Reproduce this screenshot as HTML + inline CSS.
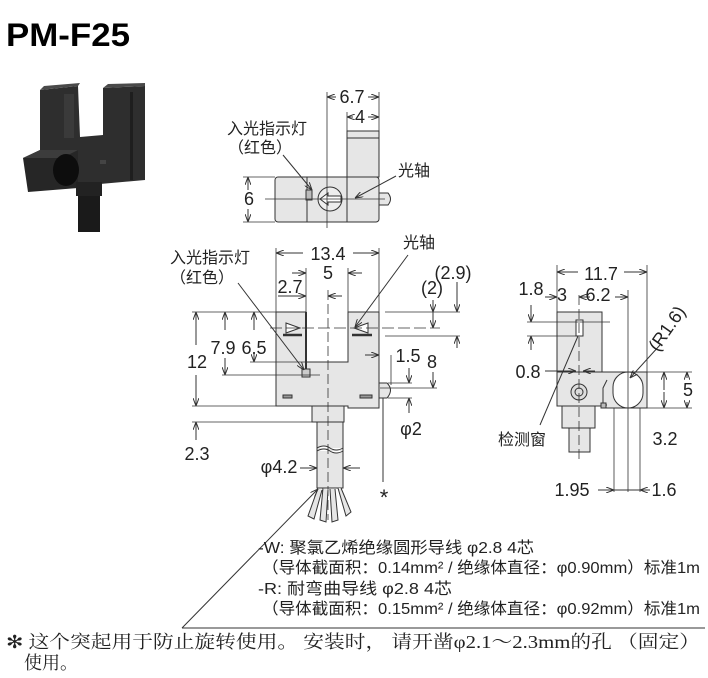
<!DOCTYPE html>
<html><head><meta charset="utf-8"><style>
html,body{margin:0;padding:0;background:#fff;}
svg{display:block;}
text{font-family:"Liberation Sans","Noto Sans CJK SC",sans-serif;fill:#222;}
.d{font-size:18px;}
.d text{text-anchor:middle;}
.c{font-size:16px;}
</style></head><body>
<svg width="708" height="678" viewBox="0 0 708 678" xmlns="http://www.w3.org/2000/svg">
<defs>
<marker id="a" markerWidth="8" markerHeight="6" refX="8" refY="3" orient="auto-start-reverse" markerUnits="userSpaceOnUse"><path d="M0,0 L8,3 L0,6" fill="none" stroke="#333" stroke-width="1"/></marker>
</defs>
<text x="6" y="46" style="font-size:32px;font-weight:bold;fill:#000" textLength="124" lengthAdjust="spacingAndGlyphs">PM-F25</text>

<!-- photo -->
<g>
<path d="M40,90 L78,86 L80,137 L103,135 L103,88 L145,86 L145,180 L100,184 L78,186 L40,188 Z" fill="#2e2e2e"/>
<path d="M40,90 L44,86 L80,83 L78,86Z M103,88 L108,84 L145,83 L145,86Z" fill="#4a4a4a"/>
<rect x="64" y="94" width="10" height="44" fill="#3a3a3a"/>
<rect x="130" y="92" width="3" height="88" fill="#1e1e1e"/>
<path d="M23,158 L40,150 L78,150 L78,188 L28,192 Z" fill="#262626"/>
<path d="M23,158 L40,150 L78,150 L62,158Z" fill="#3c3c3c"/>
<ellipse cx="66" cy="170" rx="13" ry="16" fill="#0d0d0d"/>
<rect x="100" y="160" width="6" height="4" fill="#444"/>
<rect x="78" y="184" width="22" height="48" fill="#1a1a1a"/>
<rect x="76" y="182" width="26" height="14" fill="#222"/>
</g>

<g stroke="#333" stroke-width="1" fill="none">
<!-- top view -->
<rect x="347" y="131" width="32" height="46" fill="#e6e6e6"/>
<line x1="347" y1="138" x2="379" y2="138"/>
<rect x="275" y="177" width="104" height="45" rx="3" fill="#e6e6e6"/>
<line x1="307" y1="177" x2="307" y2="222"/>
<line x1="347" y1="177" x2="347" y2="222"/>
<path d="M379,193 L388,193 Q393,199 388,205 L379,205Z" fill="#e6e6e6"/>
<rect x="306" y="190" width="6" height="10" fill="#bbb"/>
<circle cx="330" cy="199" r="12" fill="#eee"/>
<path d="M320,199 L328,193 L328,196 L341,196 L341,202 L328,202 L328,205Z" fill="#fff"/>
<line x1="265" y1="199" x2="385" y2="199" stroke-width="0.8"/>
<line x1="327" y1="92" x2="327" y2="228" stroke-width="0.8"/>
<line x1="379" y1="92" x2="379" y2="131" stroke-width="0.8"/>
<line x1="347" y1="112" x2="347" y2="131" stroke-width="0.8"/>
<line x1="327" y1="97" x2="336" y2="97" marker-start="url(#a)"/>
<line x1="368" y1="97" x2="379" y2="97" marker-end="url(#a)"/>
<line x1="347" y1="117" x2="353" y2="117" marker-start="url(#a)"/>
<line x1="368" y1="117" x2="379" y2="117" marker-end="url(#a)"/>
<line x1="248" y1="177" x2="248" y2="190" marker-start="url(#a)"/>
<line x1="248" y1="209" x2="248" y2="222" marker-end="url(#a)"/>
<line x1="243" y1="177" x2="275" y2="177" stroke-width="0.8"/>
<line x1="243" y1="222" x2="275" y2="222" stroke-width="0.8"/>
<line x1="283" y1="155" x2="312" y2="190" marker-end="url(#a)"/>
<line x1="396" y1="176" x2="355" y2="198" marker-end="url(#a)"/>

<!-- front view -->
<path d="M276,312 L306,312 L306,362 L348,362 L348,312 L379,312 L379,408 L348,408 L348,406 L276,406 Z" fill="#e6e6e6"/>
<path d="M379,383 L387,383 Q394,390 387,398 L379,398Z" fill="#e6e6e6"/>
<rect x="312" y="406" width="32" height="16" fill="#e6e6e6"/>
<path d="M317,422 L343,422 L343,488 L317,488 Z" fill="#e6e6e6"/>
<path d="M317,448 Q324,444 330,448 T343,448" fill="#fff"/>
<path d="M317,451 Q324,447 330,451 T343,451" fill="#fff"/>
<path d="M318,488 L308,516 L314,519 L322,490 M323,488 L320,520 L326,522 L328,490 M330,489 L332,522 L338,520 L335,489 M338,488 L346,516 L351,512 L341,488" fill="#e6e6e6"/>
<line x1="306" y1="312" x2="306" y2="372" stroke-width="2"/>
<path d="M286,323 L300,328 L286,333Z" fill="#fff"/>
<path d="M368,323 L354,328 L368,333Z" fill="#fff"/>
<line x1="283" y1="335" x2="302" y2="335" stroke-width="2.5"/>
<line x1="352" y1="335" x2="372" y2="335" stroke-width="2.5"/>
<rect x="283" y="395" width="9" height="3" fill="#999"/>
<rect x="360" y="395" width="12" height="3" fill="#999"/>
<rect x="302" y="369" width="8" height="8" fill="#ccc"/>
<line x1="328" y1="290" x2="328" y2="520" stroke-dasharray="10,4" stroke-width="0.8"/>
<line x1="270" y1="328" x2="440" y2="328" stroke-dasharray="12,4" stroke-width="0.8"/>
<line x1="276" y1="248" x2="276" y2="312" stroke-width="0.8"/>
<line x1="379" y1="248" x2="379" y2="312" stroke-width="0.8"/>
<line x1="306" y1="268" x2="306" y2="312" stroke-width="0.8"/>
<line x1="348" y1="268" x2="348" y2="312" stroke-width="0.8"/>
<line x1="276" y1="253" x2="303" y2="253" marker-start="url(#a)"/>
<line x1="353" y1="253" x2="379" y2="253" marker-end="url(#a)"/>
<line x1="292" y1="273" x2="306" y2="273" marker-end="url(#a)"/>
<line x1="362" y1="273" x2="348" y2="273" marker-end="url(#a)"/>
<line x1="278" y1="296" x2="306" y2="296" marker-end="url(#a)"/>
<line x1="342" y1="296" x2="328" y2="296" marker-end="url(#a)"/>
<line x1="192" y1="312" x2="276" y2="312" stroke-width="0.8"/>
<line x1="192" y1="406" x2="276" y2="406" stroke-width="0.8"/>
<line x1="192" y1="422" x2="312" y2="422" stroke-width="0.8"/>
<line x1="222" y1="375" x2="320" y2="375" stroke-width="0.8"/>
<line x1="250" y1="362" x2="306" y2="362" stroke-width="0.8"/>
<line x1="196" y1="345" x2="196" y2="312" marker-end="url(#a)"/>
<line x1="196" y1="375" x2="196" y2="406" marker-end="url(#a)"/>
<line x1="196" y1="440" x2="196" y2="422" marker-end="url(#a)"/>
<line x1="225" y1="330" x2="225" y2="312" marker-end="url(#a)"/>
<line x1="225" y1="358" x2="225" y2="375" marker-end="url(#a)"/>
<line x1="254" y1="330" x2="254" y2="312" marker-end="url(#a)"/>
<line x1="254" y1="352" x2="254" y2="362" marker-end="url(#a)"/>
<line x1="385" y1="312" x2="460" y2="312" stroke-width="0.8"/>
<line x1="385" y1="336" x2="460" y2="336" stroke-width="0.8"/>
<line x1="380" y1="388" x2="437" y2="388" stroke-width="0.8"/>
<line x1="433" y1="300" x2="433" y2="312" marker-end="url(#a)"/>
<line x1="433" y1="312" x2="433" y2="328" marker-end="url(#a)"/>
<line x1="433" y1="372" x2="433" y2="388" marker-end="url(#a)"/>
<line x1="457" y1="282" x2="457" y2="312" marker-end="url(#a)"/>
<line x1="457" y1="348" x2="457" y2="336" marker-end="url(#a)"/>
<line x1="365" y1="355" x2="379" y2="355" marker-end="url(#a)"/>
<line x1="391" y1="355" x2="391" y2="385" stroke-width="0.8"/>
<line x1="388" y1="383" x2="412" y2="383" stroke-width="0.8"/>
<line x1="388" y1="398" x2="412" y2="398" stroke-width="0.8"/>
<line x1="409" y1="368" x2="409" y2="383" marker-end="url(#a)"/>
<line x1="409" y1="413" x2="409" y2="398" marker-end="url(#a)"/>
<line x1="383" y1="398" x2="383" y2="482"/>
<line x1="300" y1="468" x2="317" y2="468" marker-end="url(#a)"/>
<line x1="360" y1="468" x2="343" y2="468" marker-end="url(#a)"/>
<line x1="238" y1="283" x2="304" y2="370" marker-end="url(#a)"/>
<line x1="408" y1="255" x2="355" y2="327" marker-end="url(#a)"/>
<line x1="318" y1="489" x2="182" y2="628" marker-start="url(#a)"/>
<line x1="182" y1="628" x2="705" y2="628"/>

<!-- side view -->
<rect x="557" y="312" width="45" height="60" fill="#e6e6e6"/>
<path d="M557,372 L647,372 L647,408 L605,408 L605,406 L557,406 Z" fill="#e6e6e6"/>
<rect x="613" y="372" width="30" height="36" rx="15" fill="#fff"/>
<path d="M607,380 L603,388 L603,405 L607,405" />
<rect x="601" y="403" width="5" height="5" fill="#bbb"/>
<circle cx="579" cy="392" r="8" fill="#ddd"/>
<circle cx="579" cy="392" r="4"/>
<rect x="562" y="406" width="33" height="22" fill="#e6e6e6"/>
<rect x="569" y="428" width="21" height="24" fill="#e6e6e6"/>
<rect x="576" y="320" width="7" height="16" fill="#fff"/>
<line x1="579" y1="295" x2="579" y2="460" stroke-dasharray="10,4" stroke-width="0.8"/>
<line x1="628" y1="290" x2="628" y2="492" stroke-width="0.8"/>
<line x1="614" y1="408" x2="614" y2="492" stroke-width="0.8"/>
<line x1="640" y1="408" x2="640" y2="492" stroke-width="0.8"/>
<line x1="557" y1="265" x2="557" y2="312" stroke-width="0.8"/>
<line x1="647" y1="265" x2="647" y2="372" stroke-width="0.8"/>
<line x1="557" y1="272" x2="578" y2="272" marker-start="url(#a)"/>
<line x1="624" y1="272" x2="647" y2="272" marker-end="url(#a)"/>
<line x1="545" y1="297" x2="557" y2="297" marker-end="url(#a)"/>
<line x1="590" y1="297" x2="579" y2="297" marker-end="url(#a)"/>
<line x1="615" y1="297" x2="628" y2="297" marker-end="url(#a)"/>
<line x1="527" y1="322" x2="610" y2="322" stroke-width="0.8"/>
<line x1="527" y1="336" x2="583" y2="336" stroke-width="0.8"/>
<line x1="531" y1="305" x2="531" y2="322" marker-end="url(#a)"/>
<line x1="531" y1="350" x2="531" y2="336" marker-end="url(#a)"/>
<line x1="545" y1="371" x2="576" y2="371" marker-end="url(#a)"/>
<line x1="595" y1="371" x2="583" y2="371" marker-end="url(#a)"/>
<line x1="647" y1="372" x2="692" y2="372" stroke-width="0.8"/>
<line x1="640" y1="408" x2="692" y2="408" stroke-width="0.8"/>
<line x1="664" y1="390" x2="664" y2="372" marker-end="url(#a)"/>
<line x1="664" y1="392" x2="664" y2="408" marker-end="url(#a)"/>
<line x1="687" y1="378" x2="687" y2="372" marker-end="url(#a)"/>
<line x1="687" y1="402" x2="687" y2="408" marker-end="url(#a)"/>
<line x1="598" y1="490" x2="614" y2="490" marker-end="url(#a)"/>
<line x1="614" y1="490" x2="640" y2="490"/>
<line x1="650" y1="490" x2="640" y2="490" marker-end="url(#a)"/>
<line x1="660" y1="345" x2="630" y2="378" marker-end="url(#a)"/>
<line x1="540" y1="425" x2="578" y2="336"/>
</g>

<g class="d">
<text x="352" y="103">6.7</text>
<text x="360" y="123">4</text>
<text x="249" y="205">6</text>
<text x="328" y="260">13.4</text>
<text x="328" y="279">5</text>
<text x="290" y="293">2.7</text>
<text x="197" y="368">12</text>
<text x="223" y="354">7.9</text>
<text x="254" y="354">6.5</text>
<text x="197" y="460">2.3</text>
<text x="453" y="279">(2.9)</text>
<text x="432" y="294">(2)</text>
<text x="432" y="368">8</text>
<text x="408" y="362">1.5</text>
<text x="411" y="435">φ2</text>
<text x="279" y="473">φ4.2</text>
<text x="384" y="505" style="font-size:22px">*</text>
<text x="601" y="280">11.7</text>
<text x="531" y="295">1.8</text>
<text x="562" y="301">3</text>
<text x="598" y="301">6.2</text>
<text x="528" y="378">0.8</text>
<text x="688" y="396">5</text>
<text x="665" y="445">3.2</text>
<text x="572" y="496">1.95</text>
<text x="664" y="496">1.6</text>
<text x="0" y="0" transform="translate(672,332) rotate(-55)">(R1.6)</text>
</g>
<g class="c">
<text x="227" y="134">入光指示灯</text>
<text x="228" y="153">（红色）</text>
<text x="398" y="176">光轴</text>
<text x="170" y="263">入光指示灯</text>
<text x="170" y="283">（红色）</text>
<text x="403" y="248">光轴</text>
<text x="498" y="445">检测窗</text>
<text x="258" y="553" textLength="276" lengthAdjust="spacingAndGlyphs">-W:  聚氯乙烯绝缘圆形导线 φ2.8 4芯</text>
<text x="262" y="573" textLength="438" lengthAdjust="spacingAndGlyphs">（导体截面积：0.14mm² / 绝缘体直径：φ0.90mm）标准1m</text>
<text x="258" y="594" textLength="194" lengthAdjust="spacingAndGlyphs">-R:  耐弯曲导线 φ2.8 4芯</text>
<text x="262" y="614" textLength="438" lengthAdjust="spacingAndGlyphs">（导体截面积：0.15mm² / 绝缘体直径：φ0.92mm）标准1m</text>
</g>
<g style="font-size:18px">
<text x="6" y="648" textLength="694" lengthAdjust="spacingAndGlyphs" style='font-family:"Liberation Serif","Noto Serif CJK SC",serif'>✻ 这个突起用于防止旋转使用。 安装时， 请开凿φ2.1～2.3mm的孔 （固定）</text>
<text x="24" y="669" style='font-family:"Liberation Serif","Noto Serif CJK SC",serif'>使用。</text>
</g>
</svg>
</body></html>
